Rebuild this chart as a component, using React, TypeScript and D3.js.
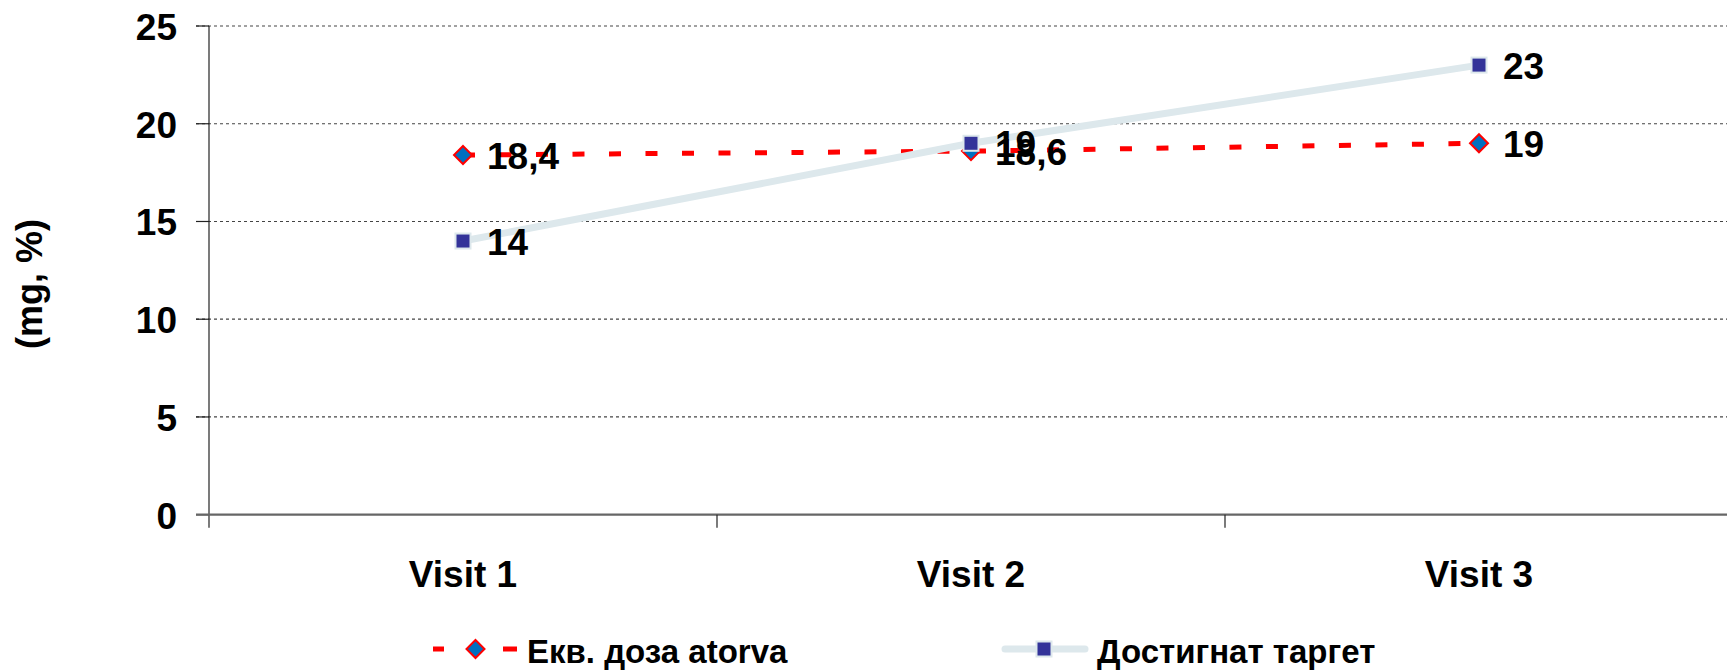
import React from "react";
import * as d3 from "d3";

const visits = ["Visit 1", "Visit 2", "Visit 3"];
const doseValues = [18.4, 18.6, 19];
const targetValues = [14, 19, 23];
const yTicks = [0, 5, 10, 15, 20, 25];
const seriesNames = ["Екв. доза atorva", "Достигнат таргет"];
const yTitle = "(mg, %)";

const W = 1727;
const H = 672;
const FONT = "'Liberation Sans', Arial, sans-serif";

const fmt = (v: number) => String(v).replace(".", ",");

export default function App() {
  const x = d3.scaleBand<string>().domain(visits).range([209, 1733]).padding(0);
  const y = d3.scaleLinear().domain([0, 25]).range([514.7, 26]);
  const cx = (v: string) => (x(v) as number) + x.bandwidth() / 2;

  const line = d3
    .line<number>()
    .x((_, i) => cx(visits[i]))
    .y((d) => y(d));

  const diamond = (px: number, py: number, r: number) =>
    `M${px},${py - r}L${px + r},${py}L${px},${py + r}L${px - r},${py}Z`;

  const x0 = 209;
  const yBase = y(0);

  return (
    <svg
      width={W}
      height={H}
      style={{ position: "absolute", left: 0, top: 0, background: "#fff" }}
      fontFamily={FONT}
    >
      {/* horizontal gridlines + y ticks */}
      {yTicks.map((t) => (
        <g key={t}>
          {t > 0 && (
            <line
              x1={196}
              x2={W}
              y1={y(t)}
              y2={y(t)}
              stroke="#444"
              strokeWidth={1.2}
              strokeDasharray="3,3"
            />
          )}
          <line x1={196} x2={x0} y1={y(t)} y2={y(t)} stroke="#222" strokeWidth={1.2} />
          <text
            x={177}
            y={y(t) + 14}
            textAnchor="end"
            fontSize={37}
            fontWeight="bold"
            fill="#000"
          >
            {t}
          </text>
        </g>
      ))}

      {/* axes */}
      <line x1={x0} x2={x0} y1={y(25)} y2={yBase + 13} stroke="#222" strokeWidth={1.2} />
      <line x1={196} x2={W} y1={yBase} y2={yBase} stroke="#666" strokeWidth={2.2} />
      {visits.map((v) => (
        <line
          key={v}
          x1={(x(v) as number) + x.bandwidth()}
          x2={(x(v) as number) + x.bandwidth()}
          y1={yBase}
          y2={yBase + 13}
          stroke="#222"
          strokeWidth={1.2}
        />
      ))}
      {visits.map((v) => (
        <text
          key={v}
          x={cx(v)}
          y={587}
          textAnchor="middle"
          fontSize={37}
          fontWeight="bold"
        >
          {v}
        </text>
      ))}

      {/* y-axis title */}
      <text
        transform={`translate(42,284) rotate(-90)`}
        textAnchor="middle"
        fontSize={36}
        fontWeight="bold"
      >
        {yTitle}
      </text>

      {/* dose series: red dashed line with blue diamonds */}
      <path
        d={line(doseValues) as string}
        fill="none"
        stroke="#FF0000"
        strokeWidth={5}
        strokeDasharray="12,24.5"
      />
      {doseValues.map((d, i) => (
        <path
          key={i}
          d={diamond(cx(visits[i]), y(d), 9)}
          fill="#0070C0"
          stroke="#FF0000"
          strokeWidth={2}
        />
      ))}

      {/* target series: pale line with navy squares */}
      <path
        d={line(targetValues) as string}
        fill="none"
        stroke="#DDE8EC"
        strokeWidth={7}
      />
      {targetValues.map((d, i) => (
        <rect
          key={i}
          x={cx(visits[i]) - 7.5}
          y={y(d) - 7.5}
          width={15}
          height={15}
          fill="#333399"
          stroke="#DDE8EC"
          strokeWidth={2}
        />
      ))}

      {/* value labels */}
      {doseValues.map((d, i) => (
        <text
          key={"d" + i}
          x={cx(visits[i]) + 24}
          y={y(d) + 14}
          fontSize={37}
          fontWeight="bold"
        >
          {fmt(d)}
        </text>
      ))}
      {targetValues.map((d, i) => (
        <text
          key={"t" + i}
          x={cx(visits[i]) + 24}
          y={y(d) + 14}
          fontSize={37}
          fontWeight="bold"
        >
          {fmt(d)}
        </text>
      ))}

      {/* legend */}
      <g>
        <path
          d="M433,649H517"
          stroke="#FF0000"
          strokeWidth={5}
          strokeDasharray="11,59,14"
          fill="none"
        />
        <path d={diamond(475.5, 649, 9)} fill="#0070C0" stroke="#FF0000" strokeWidth={2} />
        <text x={527} y={663} fontSize={33} fontWeight="bold">
          {seriesNames[0]}
        </text>

        <path
          d="M1005,649H1085"
          stroke="#DDE8EC"
          strokeWidth={7}
          strokeLinecap="round"
          fill="none"
        />
        <rect
          x={1044 - 7.5}
          y={649 - 7.5}
          width={15}
          height={15}
          fill="#333399"
          stroke="#DDE8EC"
          strokeWidth={2}
        />
        <text x={1097} y={663} fontSize={33} fontWeight="bold">
          {seriesNames[1]}
        </text>
      </g>
    </svg>
  );
}
